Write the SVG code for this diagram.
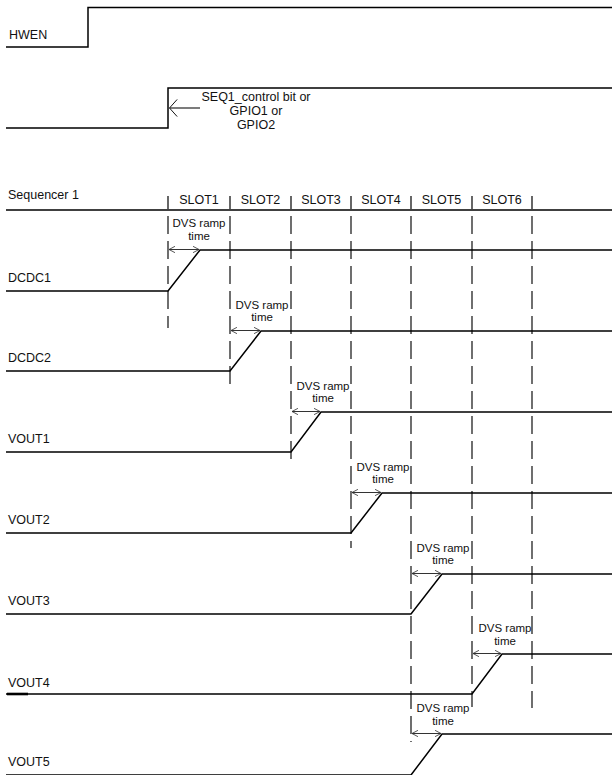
<svg xmlns="http://www.w3.org/2000/svg" width="612" height="775" viewBox="0 0 612 775">
<defs>
<style>
.sig{fill:none;stroke:#000;stroke-width:1.5;stroke-linejoin:miter}
.dash{fill:none;stroke:#222;stroke-width:1.3;stroke-dasharray:18 7}
.tick{fill:none;stroke:#000;stroke-width:1.2}
.arr{fill:none;stroke:#333;stroke-width:1}
.t{font-family:"Liberation Sans",Arial,sans-serif;font-size:12.5px;fill:#111}
.d{font-family:"Liberation Sans",Arial,sans-serif;font-size:11.5px;fill:#111;text-anchor:middle}
.c{text-anchor:middle}
</style>
<marker id="ah" viewBox="0 0 10 10" refX="9.5" refY="5" markerWidth="7" markerHeight="7" orient="auto-start-reverse" markerUnits="userSpaceOnUse">
<path d="M1,0.5 L9.5,5 L1,9.5" fill="none" stroke="#333" stroke-width="1.2"/>
</marker>
<marker id="ah2" viewBox="0 0 10 20" refX="9.5" refY="10" markerWidth="9" markerHeight="18" orient="auto" markerUnits="userSpaceOnUse">
<path d="M1,0.5 L9.5,10 L1,19.5" fill="none" stroke="#111" stroke-width="1.1"/>
</marker>
</defs>
<rect width="612" height="775" fill="#fff"/>

<g id="hwen">
<polyline class="sig" points="6,47 88,47 88,7.5 612,7.5"/>
<text class="t" x="9" y="39">HWEN</text>
</g>

<g id="seq1-control">
<polyline class="sig" points="6,128 168,128 168,88 612,88"/>
<text class="t c" x="256" y="101">SEQ1_control bit or</text>
<text class="t c" x="256" y="115">GPIO1 or</text>
<text class="t c" x="256" y="129">GPIO2</text>
</g>

<g id="sequencer1">
<line class="sig" x1="6" y1="210" x2="612" y2="210"/>
<text class="t" x="8" y="199">Sequencer 1</text>
<g class="tick">
<line x1="168" y1="196" x2="168" y2="209"/>
<line x1="230" y1="196" x2="230" y2="209"/>
<line x1="291" y1="196" x2="291" y2="209"/>
<line x1="351" y1="196" x2="351" y2="209"/>
<line x1="411" y1="196" x2="411" y2="209"/>
<line x1="472" y1="196" x2="472" y2="209"/>
<line x1="532" y1="196" x2="532" y2="209"/>
</g>
<text class="t c" x="199" y="204">SLOT1</text>
<text class="t c" x="260.5" y="204">SLOT2</text>
<text class="t c" x="321" y="204">SLOT3</text>
<text class="t c" x="381" y="204">SLOT4</text>
<text class="t c" x="441.5" y="204">SLOT5</text>
<text class="t c" x="502" y="204">SLOT6</text>
</g>

<g id="slot-lines">
<line class="dash" x1="168" y1="216" x2="168" y2="328"/>
<line class="dash" x1="230" y1="216" x2="230" y2="390"/>
<line class="dash" x1="291" y1="216" x2="291" y2="466"/>
<line class="dash" x1="351" y1="216" x2="351" y2="548"/>
<line class="dash" x1="411" y1="216" x2="411" y2="742"/>
<line class="dash" x1="472" y1="216" x2="472" y2="707"/>
<line class="dash" x1="532" y1="216" x2="532" y2="708"/>
</g>

<g id="dcdc1">
<polyline class="sig" points="6,291 168,291 200,250 612,250"/>
<text class="t" x="8" y="282">DCDC1</text>
<text class="d" x="199" y="227">DVS ramp</text>
<text class="d" x="199" y="240">time</text>
</g>

<g id="dcdc2">
<polyline class="sig" points="6,371 230,371 261,331 612,331"/>
<text class="t" x="8" y="362">DCDC2</text>
<text class="d" x="262" y="309">DVS ramp</text>
<text class="d" x="262" y="321">time</text>
</g>

<g id="vout1">
<polyline class="sig" points="6,452 291,452 321,412 612,412"/>
<text class="t" x="8" y="443">VOUT1</text>
<text class="d" x="323" y="390">DVS ramp</text>
<text class="d" x="323" y="402">time</text>
</g>

<g id="vout2">
<polyline class="sig" points="6,533 351,533 382,493 612,493"/>
<text class="t" x="8" y="524">VOUT2</text>
<text class="d" x="383" y="471">DVS ramp</text>
<text class="d" x="383" y="483">time</text>
</g>

<g id="vout3">
<polyline class="sig" points="6,614 411,614 442,574 612,574"/>
<text class="t" x="8" y="605">VOUT3</text>
<text class="d" x="443" y="552">DVS ramp</text>
<text class="d" x="443" y="564">time</text>
</g>

<g id="vout4">
<polyline class="sig" points="6,694 472,694 502,654 612,654"/>
<line x1="7" y1="694" x2="28" y2="694" stroke="#000" stroke-width="2.6"/>
<text class="t" x="8" y="687">VOUT4</text>
<text class="d" x="505" y="632">DVS ramp</text>
<text class="d" x="505" y="644.5">time</text>
</g>

<g id="vout5">
<polyline class="sig" points="6,775 411,775 442,734 612,734"/>
<text class="t" x="8" y="766">VOUT5</text>
<text class="d" x="443" y="712">DVS ramp</text>
<text class="d" x="443" y="724.5">time</text>
</g>

<g id="connectors">
<line x1="200" y1="108" x2="169.5" y2="108" stroke="#111" stroke-width="1.1" marker-end="url(#ah2)"/>
<line class="arr" x1="169" y1="249.5" x2="199" y2="249.5" marker-start="url(#ah)" marker-end="url(#ah)"/>
<line class="arr" x1="231" y1="330.5" x2="260" y2="330.5" marker-start="url(#ah)" marker-end="url(#ah)"/>
<line class="arr" x1="292" y1="411.5" x2="320" y2="411.5" marker-start="url(#ah)" marker-end="url(#ah)"/>
<line class="arr" x1="352" y1="492.5" x2="381" y2="492.5" marker-start="url(#ah)" marker-end="url(#ah)"/>
<line class="arr" x1="412" y1="573.5" x2="441" y2="573.5" marker-start="url(#ah)" marker-end="url(#ah)"/>
<line class="arr" x1="473" y1="653.5" x2="501" y2="653.5" marker-start="url(#ah)" marker-end="url(#ah)"/>
<line class="arr" x1="412" y1="733.5" x2="441" y2="733.5" marker-start="url(#ah)" marker-end="url(#ah)"/>
</g>
</svg>
